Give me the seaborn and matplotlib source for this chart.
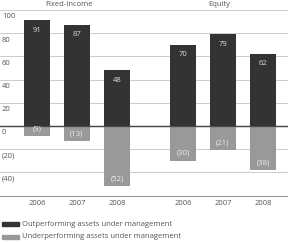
import pandas as pd
import matplotlib.pyplot as plt
import seaborn as sns

years = ["2006", "2007", "2008", "2006", "2007", "2008"]
groups = ["Fixed-Income", "Equity"]
outperforming = [91, 87, 48, 70, 79, 62]
underperforming = [-9, -13, -52, -30, -21, -38]
positions = [0, 1, 2, 3.65, 4.65, 5.65]
yticks = [100, 80, 60, 40, 20, 0, -20, -40]

kinds = ["Outperforming assets under management", "Underperforming assets under management"]
df = pd.DataFrame({
    "pos": positions * 2,
    "value": outperforming + underperforming,
    "kind": [kinds[0]] * 6 + [kinds[1]] * 6,
})

sns.set_style("white")
plt.rcParams["font.family"] = ["Open Sans", "DejaVu Sans"]
txt = "#555555"

fig = plt.figure(figsize=(2.88, 2.42), dpi=100)
ax = fig.add_axes([0, 1 - 195.6 / 242, 1, (195.6 - 10) / 242])

for y in yticks:
    ax.axhline(y, color="#4a4a4a" if y == 0 else "#cccccc", lw=0.9 if y == 0 else 0.7, zorder=0)

sns.barplot(data=df, x="pos", y="value", hue="kind", native_scale=True, dodge=False,
            palette=["#333333", "#999999"], width=0.67, edgecolor="none", legend=False, ax=ax)
ax.axhline(0, color="#4a4a4a", lw=0.9, zorder=3)

ax.set_xlim(-0.925, 6.275)
ax.set_ylim(-60, 100)
ax.set_yticks([])
ax.set_xticks(positions)
ax.set_xticklabels(years)
ax.tick_params(axis="x", length=0, pad=3, labelsize=5.5, labelcolor=txt)
ax.set_xlabel("")
ax.set_ylabel("")
for s in ["top", "left", "right"]:
    ax.spines[s].set_visible(False)
ax.spines["bottom"].set_color("#999999")
ax.spines["bottom"].set_linewidth(0.8)

tr = ax.get_yaxis_transform()
for y in yticks:
    lab = str(y) if y >= 0 else "(%d)" % -y
    ax.text(0.007, y - 3, lab, transform=tr, ha="left", va="top", fontsize=5.5, color=txt)

for p, v in zip(positions, outperforming):
    ax.text(p, v - 5.5, str(v), ha="center", va="top", fontsize=5.5, color="#dddddd")
for p, v in zip(positions, underperforming):
    ax.text(p, v + 3.5, "(%d)" % -v, ha="center", va="bottom", fontsize=5.5, color="#eeeeee")

ax.text(0.8, 101.5, groups[0], ha="center", va="bottom", fontsize=5.5, color=txt)
ax.text(4.55, 101.5, groups[1], ha="center", va="bottom", fontsize=5.5, color=txt)

for i, (k, c) in enumerate(zip(kinds, ["#333333", "#999999"])):
    yf = 1 - (224 + 13 * i) / 242
    fig.patches.append(plt.Rectangle((2 / 288, yf - 2 / 242), 17 / 288, 4 / 242,
                                     transform=fig.transFigure, color=c))
    fig.text(22 / 288, yf, k, ha="left", va="center", fontsize=5.5, color=txt)

fig.savefig("out.png", dpi=100)
